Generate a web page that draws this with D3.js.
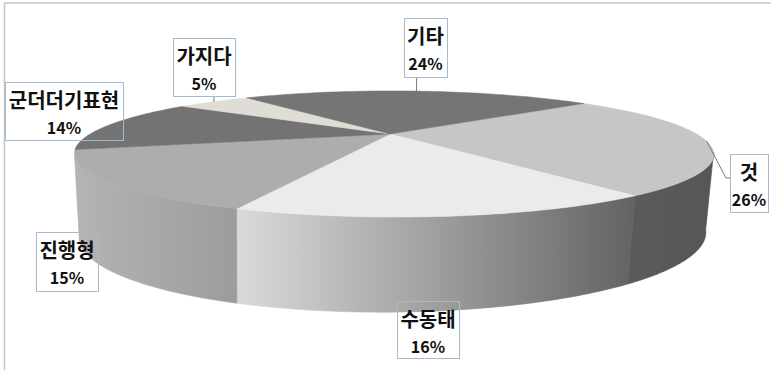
<!DOCTYPE html>
<html><head><meta charset="utf-8">
<style>
html,body{margin:0;padding:0;background:#fff;overflow:hidden}
svg{display:block}
text{font-family:"Noto Sans CJK KR","Noto Sans",sans-serif;fill:#111;text-anchor:middle}
</style>
<script src="https://cdn.jsdelivr.net/npm/d3@7/dist/d3.min.js"></script>
</head><body><svg id="c" width="771" height="370"></svg>
<script>
const categories = ["것","수동태","진행형","군더더기표현","가지다","기타"];
const shares = [26,16,15,14,5,24];
const topColors = ["#c6c6c6","#ebebeb","#adadad","#737373","#dfddd5","#757575"];
const wallStops = [["#5b5b5b","#565656"],["#dadada","#636363"],["#b4b4b4","#9c9c9c"],null,null,null];

// Placement of each label box: left, top, right, bottom.
const labelBoxes = [[730,154,768,212],[397,301,459,358],[36,232,98,291],[5,82,123,140],[173,38,235,96],[404,18,447,77]];
const leaderCategories = ["것","가지다","기타"];

const svg = d3.select("#c");
const defs = svg.append("defs");

// Perspective view of a disc: the near edge reads larger than the far edge.
const k = 0.317;
const topPlane = {cx:390, cy:134, R:303, D:11.6, B:56.7, E:-2};
const basePlane = {cx:389, cy:210.5, R:297, D:10, B:69.3, E:-5};
const project = (plane, a) => {
  const u = Math.sin(a), v = -Math.cos(a), s = 1/(1-k*v);
  return [plane.cx + (plane.R*u + plane.D*v)*s, plane.cy + (plane.B*v + plane.E*u)*s];
};

// The side wall is only visible between the two widest points of the disc.
const wallFrom = Math.acos(-k), wallTo = 2*Math.PI - wallFrom;

const pie = d3.pie().value(d=>d).sort(null)
  .startAngle(52*Math.PI/180).endAngle((52+360)*Math.PI/180);
const arcs = pie(shares);
const line = d3.line();
const rim = (plane, a0, a1) => d3.range(0,61).map(i=>project(plane, a0+(a1-a0)*i/60));

// Chart frame
svg.append("path").attr("d","M4.5,370V3H771").attr("fill","none").attr("stroke","#c4c4c4").attr("stroke-width",1.5);

// Side walls of the near half
arcs.forEach((d,i)=>{
  if(!wallStops[i]) return;
  const a0 = Math.max(d.startAngle,wallFrom), a1 = Math.min(d.endAngle,wallTo);
  const upper = rim(topPlane,a0,a1);
  const lower = rim(basePlane,a0,a1).reverse();
  const pts = upper.concat(lower);
  const xs = pts.map(p=>p[0]);
  const g = defs.append("linearGradient").attr("id","wall"+i).attr("gradientUnits","userSpaceOnUse")
    .attr("x1",d3.min(xs)).attr("x2",d3.max(xs)).attr("y1",0).attr("y2",0);
  g.append("stop").attr("offset",0).attr("stop-color",wallStops[i][0]);
  g.append("stop").attr("offset",1).attr("stop-color",wallStops[i][1]);
  svg.append("path").attr("d",line(pts)+"Z").attr("fill",`url(#wall${i})`)
    .attr("stroke",`url(#wall${i})`).attr("stroke-width",0.7);
});

// Top face wedges
arcs.forEach((d,i)=>{
  const pts = [[topPlane.cx,topPlane.cy]].concat(rim(topPlane,d.startAngle,d.endAngle));
  svg.append("path").attr("d",line(pts)+"Z").attr("fill",topColors[i])
    .attr("stroke",topColors[i]).attr("stroke-width",0.5);
});

// Leader lines
arcs.forEach((d,i)=>{
  if(!leaderCategories.includes(categories[i])) return;
  const p = project(topPlane,(d.startAngle+d.endAngle)/2), b = labelBoxes[i];
  const path = categories[i]==="것"
    ? [p,[726,178],[b[0],178]]
    : [[p[0],p[1]],[p[0],b[3]]];
  svg.append("path").attr("d",line(path)).attr("fill","none").attr("stroke","#7b7b7b").attr("stroke-width",1);
});

// Label boxes with category name and share
categories.forEach((c,i)=>{
  const [l,t,r,b] = labelBoxes[i], mid=(l+r)/2;
  svg.append("rect").attr("x",l+.5).attr("y",t+.5).attr("width",r-l).attr("height",b-t)
    .attr("fill","none").attr("stroke","#a3bbd2").attr("stroke-width",1);
  svg.append("text").attr("x",mid).attr("y",t+26).attr("font-size",20).attr("font-weight",700).text(c);
  svg.append("text").attr("x",mid).attr("y",t+52).attr("font-size",16).attr("font-weight",700).text(shares[i]+"%");
});
</script></body></html>
